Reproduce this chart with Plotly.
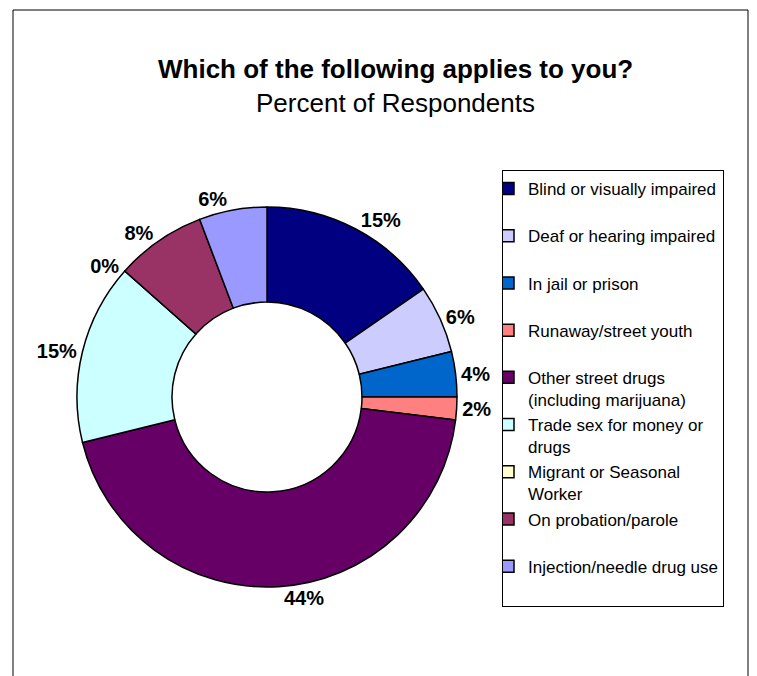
import plotly.graph_objects as go

# Respondent counts (labels show rounded percent of total)
categories = [
    "Blind or visually impaired",
    "Deaf or hearing impaired",
    "In jail or prison",
    "Runaway/street youth",
    "Other street drugs<br>(including marijuana)",
    "Trade sex for money or<br>drugs",
    "Migrant or Seasonal<br>Worker",
    "On probation/parole",
    "Injection/needle drug use",
]
counts = [8, 3, 2, 1, 23, 8, 0, 4, 3]
colors = ["#000080", "#CCCCFF", "#0066CC", "#FF8080", "#660066",
          "#CCFFFF", "#FFFFCC", "#993366", "#9999FF"]

# page has an 8px body margin, so size the figure to the remaining window
OFF = 8
W, H = 757 - OFF, 676 - OFF
FONT = "Liberation Sans, Arial, sans-serif"


def px(x):
    return (x - OFF) / W


def py(y):
    return 1 - (y - OFF) / H


# legend labels: single-line entries get a blank second line so spacing is even
legend_labels = [c if "<br>" in c else c + "<br> " for c in categories]

cx, cy, r = 267, 397, 190

fig = go.Figure(go.Pie(
    labels=legend_labels,
    values=counts,
    sort=False,
    direction="clockwise",
    rotation=0,
    hole=0.5,
    marker=dict(colors=colors, line=dict(color="black", width=1.5)),
    texttemplate="%{percent:.0%}",
    textposition="outside",
    textfont=dict(family=FONT, size=20, color="black", weight="bold"),
    domain=dict(x=[px(cx - r), px(cx + r)], y=[py(cy + r), py(cy - r)]),
    showlegend=True,
))

fig.update_layout(
    width=W, height=H,
    margin=dict(l=0, r=0, t=0, b=0),
    paper_bgcolor="white",
    plot_bgcolor="white",
    font=dict(family=FONT, color="black"),
    legend=dict(
        x=px(502), xanchor="left",
        y=py(170), yanchor="top",
        bordercolor="black", borderwidth=1,
        font=dict(family=FONT, size=17, color="black"),
        valign="top",
        itemwidth=30,
        indentation=-15,
    ),
    shapes=[dict(type="rect", xref="paper", yref="paper",
                 x0=px(13), x1=px(748), y0=-0.05, y1=py(10),
                 line=dict(color="black", width=1))],
    annotations=[
        dict(text="<b>Which of the following applies to you?</b>",
             x=px(395), y=py(52), xref="paper", yref="paper",
             showarrow=False, font=dict(family=FONT, size=26)),
        dict(text="Percent of Respondents",
             x=px(395), y=py(86), xref="paper", yref="paper",
             showarrow=False, font=dict(family=FONT, size=26)),
    ],
)

fig.write_html("out.html")
